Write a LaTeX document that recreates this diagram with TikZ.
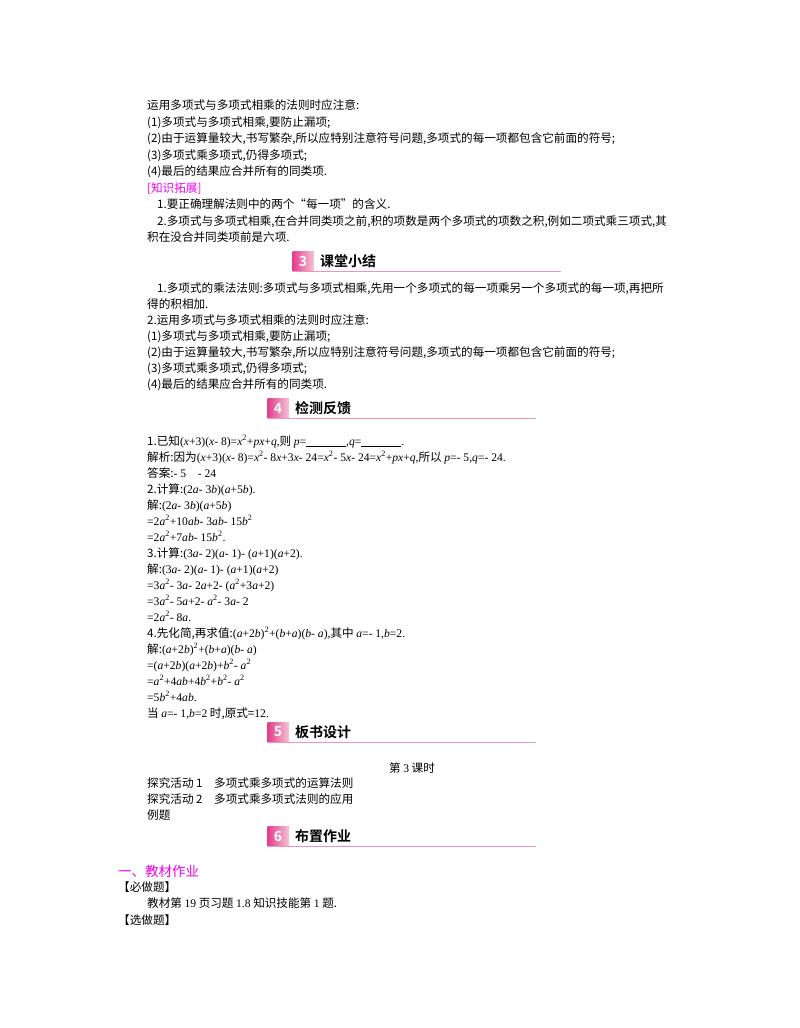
\documentclass[tikz,border=0pt]{standalone}
\usepackage{fontspec}
\setmainfont{Noto Sans CJK SC}
\newfontfamily\mf{Liberation Serif}
\newfontfamily\hf{Noto Sans CJK SC Bold}
\newcommand\m[1]{{\mf #1}}
\newcommand\I[1]{\textit{#1}}
\newcommand\sq{\textsuperscript{2}}
\definecolor{pk}{RGB}{230,60,140}
\definecolor{pkl}{RGB}{235,150,185}
\definecolor{mg}{RGB}{240,0,240}
\tikzset{t/.style={anchor=base west,inner sep=0pt,font=\fontsize{11.6}{13}\selectfont}}
\newcommand\hdr[5]{%
 \node[fill=pkl,minimum width=21pt,minimum height=20pt,inner sep=0pt,left color=pk,right color=pkl!60] (#5b) at (#1+10,#2) {\hf\itshape\color{white}\fontsize{14}{14}\selectfont #3};
 \node[anchor=west,inner sep=0pt,font=\hf\fontsize{14}{14}\selectfont] (#5t) at (#1+27,#2) {#4};
 \draw[pkl,line width=0.8pt] (#1,#2+10) -- (#1+268,#2+10);}
\begin{document}
\begin{tikzpicture}[x=1pt,y=-1pt]
\useasboundingbox (0,0) rectangle (800,1028);
\node[t] (a1) at (147,109) {运用多项式与多项式相乘的法则时应注意:};
\node[t] (a2) at (147,126) {(1)多项式与多项式相乘,要防止漏项;};
\node[t] (a3) at (147,142) {(2)由于运算量较大,书写繁杂,所以应特别注意符号问题,多项式的每一项都包含它前面的符号;};
\node[t] (a4) at (147,159) {(3)多项式乘多项式,仍得多项式;};
\node[t] (a5) at (147,175) {(4)最后的结果应合并所有的同类项.};
\node[t,text=mg] (a6) at (147,192) {[知识拓展]};
\node[t] (a7) at (157,208) {1.要正确理解法则中的两个“每一项”的含义.};
\node[t] (a8) at (157,225) {2.多项式与多项式相乘,在合并同类项之前,积的项数是两个多项式的项数之积,例如二项式乘三项式,其};
\node[t] (a9) at (147,241) {积在没合并同类项前是六项.};
\hdr{293}{261}{3}{课堂小结}{h3}
\node[t] (b1) at (157,292) {1.多项式的乘法法则:多项式与多项式相乘,先用一个多项式的每一项乘另一个多项式的每一项,再把所};
\node[t] (b2) at (147,308) {得的积相加.};
\node[t] (b3) at (147,324) {2.运用多项式与多项式相乘的法则时应注意:};
\node[t] (b4) at (147,340) {(1)多项式与多项式相乘,要防止漏项;};
\node[t] (b5) at (147,356) {(2)由于运算量较大,书写繁杂,所以应特别注意符号问题,多项式的每一项都包含它前面的符号;};
\node[t] (b6) at (147,372) {(3)多项式乘多项式,仍得多项式;};
\node[t] (b7) at (147,388) {(4)最后的结果应合并所有的同类项.};
\hdr{268}{408}{4}{检测反馈}{h4}
\node[t] (c1) at (147,445) {1.已知\m{(\I{x}+3)(\I{x}- 8)=\I{x}\sq+\I{px}+\I{q},}则 \m{\I{p}=\underline{\hspace{40pt}},\I{q}=\underline{\hspace{40pt}}.}};
\node[t] (c2) at (147,461) {解析:因为\m{(\I{x}+3)(\I{x}- 8)=\I{x}\sq- 8\I{x}+3\I{x}- 24=\I{x}\sq- 5\I{x}- 24=\I{x}\sq+\I{px}+\I{q},}所以 \m{\I{p}=- 5,\I{q}=- 24.}};
\node[t] (c3) at (147,477) {答案:\m{- 5\quad - 24}};
\node[t] (c4) at (147,493) {2.计算:\m{(2\I{a}- 3\I{b})(\I{a}+5\I{b}).}};
\node[t] (c5) at (147,509) {解:\m{(2\I{a}- 3\I{b})(\I{a}+5\I{b})}};
\node[t] (c6) at (147,525) {\m{=2\I{a}\sq+10\I{ab}- 3\I{ab}- 15\I{b}\sq}};
\node[t] (c7) at (147,541) {\m{=2\I{a}\sq+7\I{ab}- 15\I{b}\sq.}};
\node[t] (c8) at (147,557) {3.计算:\m{(3\I{a}- 2)(\I{a}- 1)- (\I{a}+1)(\I{a}+2).}};
\node[t] (c9) at (147,573) {解:\m{(3\I{a}- 2)(\I{a}- 1)- (\I{a}+1)(\I{a}+2)}};
\node[t] (c10) at (147,589) {\m{=3\I{a}\sq- 3\I{a}- 2\I{a}+2- (\I{a}\sq+3\I{a}+2)}};
\node[t] (c11) at (147,605) {\m{=3\I{a}\sq- 5\I{a}+2- \I{a}\sq- 3\I{a}- 2}};
\node[t] (c12) at (147,621) {\m{=2\I{a}\sq- 8\I{a}.}};
\node[t] (c13) at (147,637) {4.先化简,再求值:\m{(\I{a}+2\I{b})\sq+(\I{b}+\I{a})(\I{b}- \I{a}),}其中 \m{\I{a}=- 1,\I{b}=2.}};
\node[t] (c14) at (147,653) {解:\m{(\I{a}+2\I{b})\sq+(\I{b}+\I{a})(\I{b}- \I{a})}};
\node[t] (c15) at (147,669) {\m{=(\I{a}+2\I{b})(\I{a}+2\I{b})+\I{b}\sq- \I{a}\sq}};
\node[t] (c16) at (147,685) {\m{=\I{a}\sq+4\I{ab}+4\I{b}\sq+\I{b}\sq- \I{a}\sq}};
\node[t] (c17) at (147,701) {\m{=5\I{b}\sq+4\I{ab}.}};
\node[t] (c18) at (147,717) {当 \m{\I{a}=- 1,\I{b}=2} 时,原式=\m{12.}};
\hdr{268}{732}{5}{板书设计}{h5}
\node[t,anchor=base] (d1) at (412,772) {第 \m{3} 课时};
\node[t] (d2) at (147,787) {探究活动 1\quad 多项式乘多项式的运算法则};
\node[t] (d3) at (147,803) {探究活动 2\quad 多项式乘多项式法则的应用};
\node[t] (d4) at (147,819) {例题};
\hdr{268}{836}{6}{布置作业}{h6}
\node[t,text=mg,font=\fontsize{13.5}{15}\selectfont] (e1) at (118,876) {一、教材作业};
\node[t] (e2) at (118,891) {【必做题】};
\node[t] (e3) at (147,907) {教材第 \m{19} 页习题 \m{1.8} 知识技能第 \m{1} 题.};
\node[t] (e4) at (118,924) {【选做题】};
\end{tikzpicture}
\end{document}
